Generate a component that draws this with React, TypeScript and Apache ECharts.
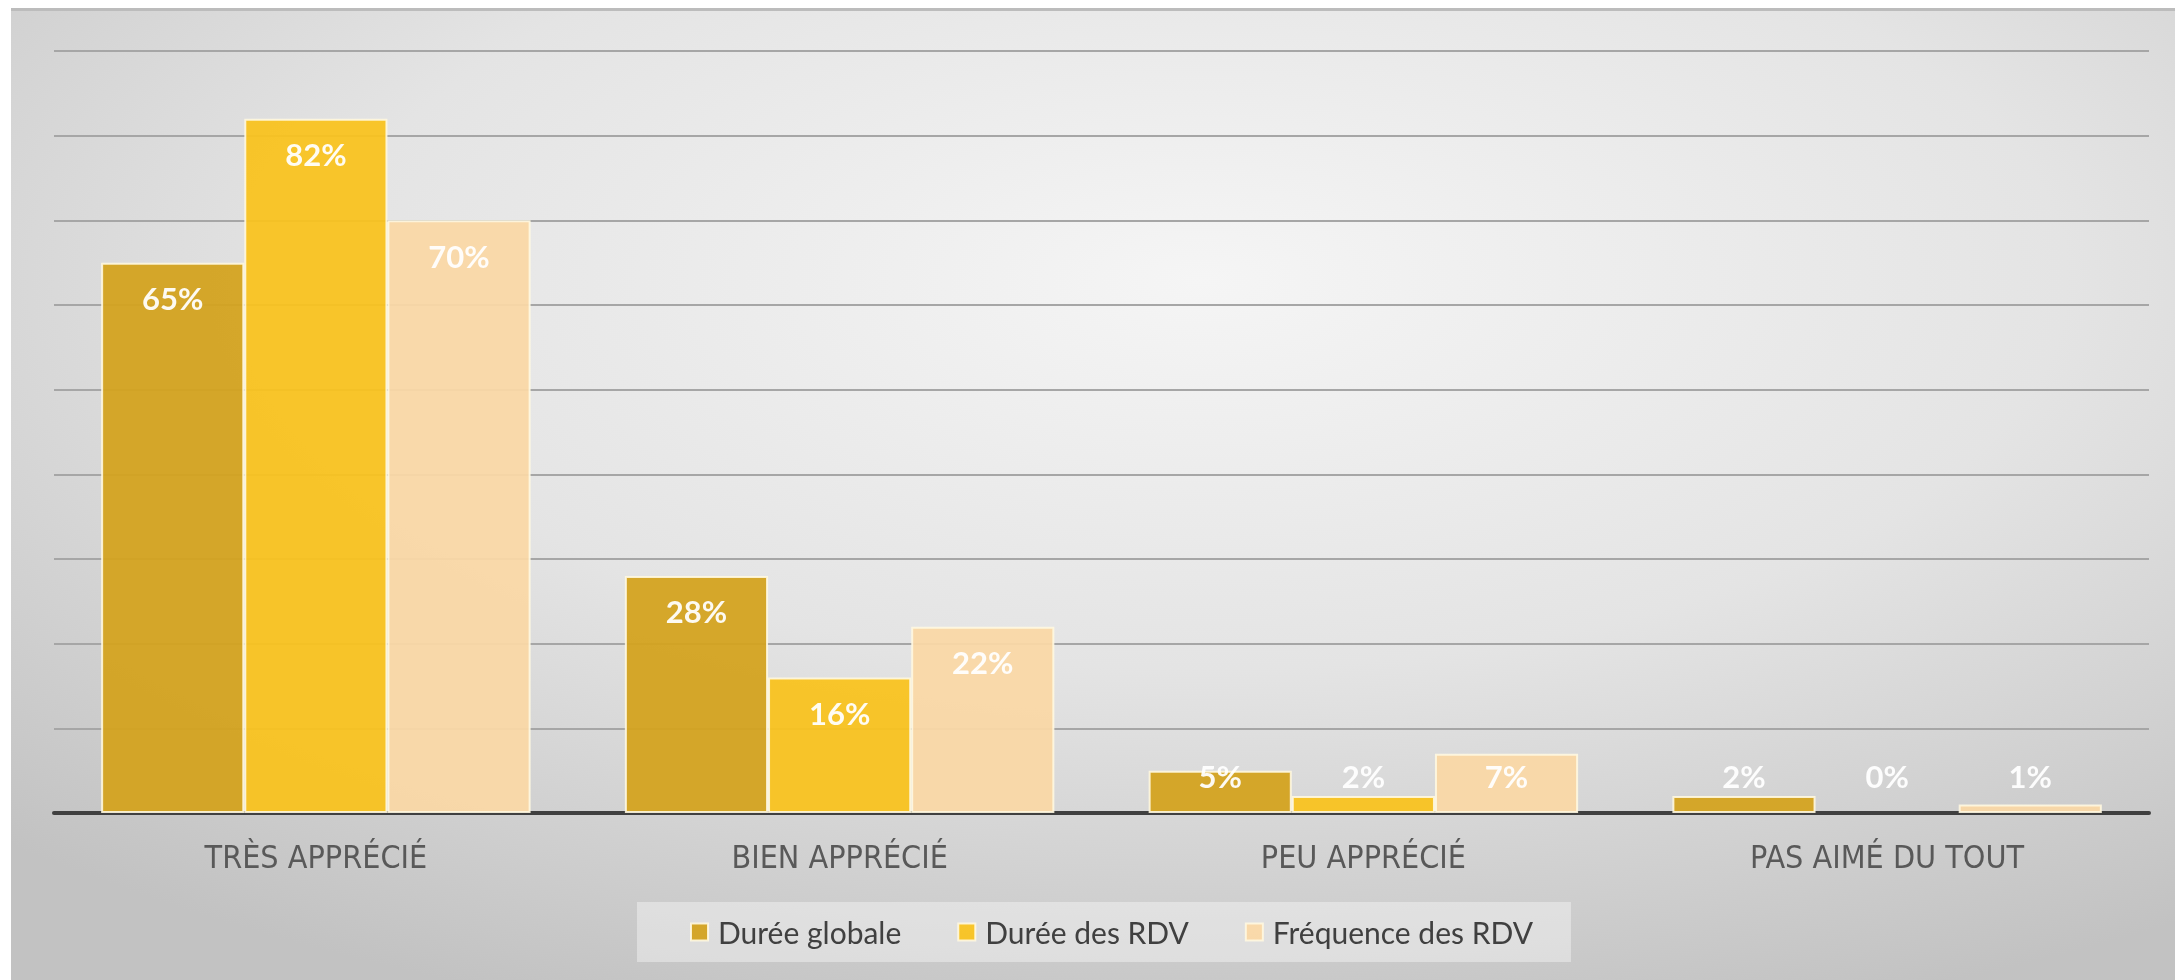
import React, { useEffect, useRef } from "react";
import * as echarts from "echarts";

const categories = ["TRÈS APPRÉCIÉ", "BIEN APPRÉCIÉ", "PEU APPRÉCIÉ", "PAS AIMÉ DU TOUT"];
const seriesNames = ["Durée globale", "Durée des RDV", "Fréquence des RDV"];
const dureeGlobale = [65, 28, 5, 2];
const dureeRdv = [82, 16, 2, 0];
const frequenceRdv = [70, 22, 7, 1];
const seriesColors = ["#D3A31E", "#F9C21E", "#FAD8A6"];
const yMin = 0;
const yMax = 90;
const yStep = 10;

function buildData(values: number[]) {
  return values.map((v) => {
    const item: any = { value: v };
    if (v < 10) item.label = { position: "insideBottom", distance: 22 };
    if (v === 0) item.itemStyle = { borderWidth: 0 };
    return item;
  });
}

export default function App() {
  const ref = useRef<HTMLDivElement>(null);
  useEffect(() => {
    if (!ref.current) return;
    const chart = echarts.init(ref.current, undefined, { renderer: "svg" });
    const W = 2164;
    const H = 972;
    const allValues = [dureeGlobale, dureeRdv, frequenceRdv];
    chart.setOption({
      animation: false,
      graphic: [
        {
          type: "rect",
          z: -10,
          silent: true,
          shape: { x: 0, y: 0, width: W, height: H },
          style: {
            fill: new echarts.graphic.RadialGradient(0.55, 0.28, 0.8, [
              { offset: 0, color: "#f5f5f5" },
              { offset: 0.5, color: "#e4e4e4" },
              { offset: 1, color: "#c2c2c2" },
            ]),
          },
        },
        {
          type: "rect",
          z: -9,
          silent: true,
          shape: { x: 0, y: 0, width: W, height: 3 },
          style: { fill: "#bcbcbc" },
        },
      ],
      grid: { left: 43, right: 26, top: 43, bottom: 167, containLabel: false },
      legend: {
        data: seriesNames,
        left: 626,
        top: 894,
        orient: "horizontal",
        backgroundColor: "rgba(255,255,255,0.38)",
        padding: [15, 38, 15, 53],
        itemWidth: 17,
        itemHeight: 17,
        itemGap: 56,
        icon: "rect",
        textStyle: {
          fontFamily: "Lato, 'Noto Sans', sans-serif",
          fontSize: 30,
          color: "#404040",
          padding: [0, 0, 0, 5],
        },
      },
      xAxis: {
        type: "category",
        data: categories,
        axisLine: { show: true, lineStyle: { color: "#404040", width: 4 } },
        axisTick: { show: false },
        axisLabel: {
          margin: 28,
          color: "#595959",
          fontSize: 32,
          fontFamily: "'Liberation Sans Narrow', 'DejaVu Sans Condensed', 'Roboto', sans-serif",
        },
      },
      yAxis: {
        type: "value",
        min: yMin,
        max: yMax,
        interval: yStep,
        axisLabel: { show: false },
        axisLine: { show: false },
        axisTick: { show: false },
        splitLine: { show: true, lineStyle: { color: "#a6a6a6", width: 2 } },
      },
      series: seriesNames.map((name, i) => ({
        name,
        type: "bar",
        data: buildData(allValues[i]),
        barGap: "0%",
        barCategoryGap: "18%",
        itemStyle: {
          color: seriesColors[i],
          borderColor: "rgba(255,248,225,0.95)",
          borderWidth: 2,
          opacity: 0.94,
        },
        label: {
          show: true,
          position: "insideTop",
          distance: 20,
          formatter: "{c}%",
          color: "#ffffff",
          fontWeight: "bold",
          fontSize: 31,
          fontFamily: "Lato, 'Noto Sans', sans-serif",
        },
      })),
    });
    return () => chart.dispose();
  }, []);
  return (
    <div
      ref={ref}
      style={{ position: "fixed", left: 11, top: 8, width: 2164, height: 972 }}
    />
  );
}
